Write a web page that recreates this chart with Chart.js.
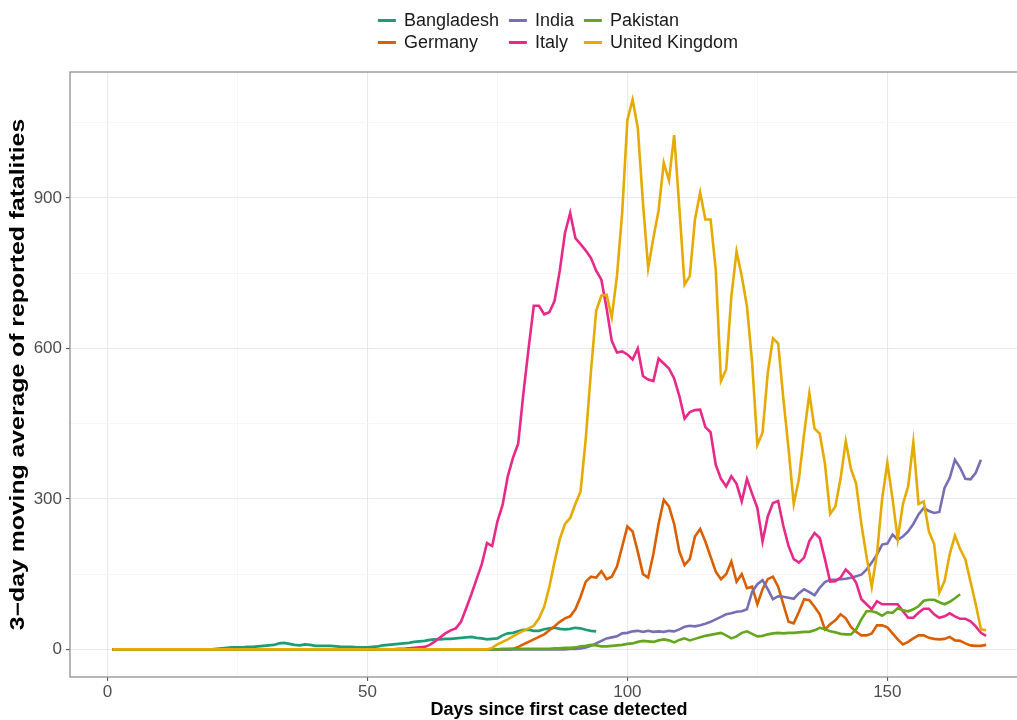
<!DOCTYPE html>
<html>
<head>
<meta charset="utf-8">
<title>3-day moving average of reported fatalities</title>
<script src="https://cdn.jsdelivr.net/npm/chart.js@4.4.1/dist/chart.umd.min.js"></script>
<style>
  html, body { margin: 0; padding: 0; background: #fff; overflow: hidden; }
  #wrap { position: relative; width: 1017px; height: 720px; overflow: hidden; }
  /* the figure is a little wider than the window, its right edge is cut off */
  #chart-box { position: absolute; left: 0; top: 0; width: 1055px; height: 720px; }
  .legend {
    position: absolute; top: 9px; left: 558px; transform: translateX(-50%);
    display: grid; grid-template-rows: auto auto; grid-auto-flow: column;
    column-gap: 10px;
    font: 18px "Liberation Sans", Arial, sans-serif; color: #1a1a1a;
  }
  .legend-item { display: flex; align-items: center; height: 22px; white-space: nowrap; }
  .legend-key { width: 18px; height: 3px; margin-right: 8px; }
</style>
</head>
<body>
<div id="wrap">
  <div id="chart-box"><canvas id="ctx-fatalities"></canvas></div>
  <div class="legend" id="legend"></div>
</div>
<script>
// axis ticks
const dayTicks = [0, 50, 100, 150];
const dayMinorTicks = [25, 75, 125, 175];
const deathTicks = [0, 300, 600, 900];
const deathMinorTicks = [150, 450, 750, 1050];

const countries = ['Bangladesh', 'Germany', 'India', 'Italy', 'Pakistan', 'United Kingdom'];
const colors = ['#1b9e77', '#d95f02', '#7570b3', '#e7298a', '#66a61e', '#e6ab02'];

// 3-day moving average of deaths, one value per day since first case (day 1 first)
const bangladesh = [
  0, 0, 0, 0, 0, 0, 0, 0, 0, 0,
  0, 0, 0, 0, 0, 0, 0, 0, 0, 0,
  1, 2, 3, 4, 4, 4, 5, 5, 6, 7,
  8, 9, 12, 13, 11, 9, 8, 10, 9, 7,
  7, 7, 7, 6, 5, 5, 5, 4, 4, 4,
  5, 6, 8, 9, 10, 11, 12, 13, 15, 16,
  17, 19, 20, 20, 21, 21, 22, 23, 24, 25,
  23, 22, 20, 21, 22, 28, 32, 33, 36, 39,
  39, 37, 37, 40, 42, 43, 41, 40, 41, 43,
  42, 39, 37, 36
];
const germany = [
  0, 0, 0, 0, 0, 0, 0, 0, 0, 0,
  0, 0, 0, 0, 0, 0, 0, 0, 0, 0,
  0, 0, 0, 0, 0, 0, 0, 0, 0, 0,
  0, 0, 0, 0, 0, 0, 0, 0, 0, 0,
  0, 0, 0, 0, 0, 0, 0, 0, 0, 0,
  0, 0, 0, 0, 0, 0, 0, 0, 0, 0,
  0, 0, 0, 0, 0, 0, 0, 0, 0, 0,
  0, 0, 0, 0, 0, 0, 0, 1, 5, 10,
  15, 20, 25, 30, 38, 46, 55, 62, 66, 80,
  105, 135, 145, 143, 156, 140, 145, 165, 205, 245,
  235, 195, 150, 143, 190, 250, 298, 285, 250, 195,
  168, 180, 225, 240, 215, 185, 155, 140, 150, 175,
  135, 150, 122, 125, 90, 120, 140, 145, 125, 90,
  55, 52, 75, 100, 98, 85, 70, 40, 50, 58,
  70, 62, 45, 35, 28, 28, 32, 48, 48, 44,
  32, 20, 10, 15, 22, 28, 28, 23, 21, 20,
  21, 25, 18, 17, 12, 8, 7, 7, 9
];
const india = [
  0, 0, 0, 0, 0, 0, 0, 0, 0, 0,
  0, 0, 0, 0, 0, 0, 0, 0, 0, 0,
  0, 0, 0, 0, 0, 0, 0, 0, 0, 0,
  0, 0, 0, 0, 0, 0, 0, 0, 0, 0,
  0, 0, 0, 0, 0, 0, 0, 0, 0, 0,
  0, 0, 0, 0, 0, 0, 0, 0, 0, 0,
  0, 0, 0, 0, 0, 0, 0, 0, 0, 0,
  0, 0, 0, 0, 0, 0, 0, 0, 0, 0,
  0, 0, 0, 0, 0, 0, 0, 0, 1, 1,
  2, 4, 7, 12, 17, 22, 24, 26, 32, 33,
  36, 37, 35, 37, 35, 36, 35, 37, 36, 40,
  45, 47, 46, 48, 51, 55, 60, 65, 70, 72,
  75, 76, 80, 115, 130, 138, 120, 100, 106, 105,
  103, 101, 112, 120, 114, 108, 123, 134, 139, 139,
  140, 141, 143, 146, 149, 159, 173, 189, 209, 211,
  229, 219, 225, 235, 250, 269, 282, 276, 272, 274,
  322, 342, 378, 362, 340, 339, 352, 378
];
const italy = [
  0, 0, 0, 0, 0, 0, 0, 0, 0, 0,
  0, 0, 0, 0, 0, 0, 0, 0, 0, 0,
  0, 0, 0, 0, 0, 0, 0, 0, 0, 0,
  0, 0, 0, 0, 0, 0, 0, 0, 0, 0,
  0, 0, 0, 0, 0, 0, 0, 0, 0, 0,
  0, 0, 0, 0, 0, 1, 1, 2, 3, 4,
  5, 9, 16, 24, 32, 38, 42, 55, 82, 110,
  140, 170, 212, 206, 255, 288, 345, 382, 410, 510,
  600, 685, 685, 668, 672, 695, 755, 830, 870, 820,
  808, 795, 780, 755, 737, 680, 615, 592, 594, 588,
  578, 600, 545, 538, 535, 580, 570, 560, 540, 505,
  460, 473, 477, 478, 443, 433, 368, 340, 325, 345,
  330, 295, 340, 310, 282, 215, 265, 292, 296, 246,
  206, 180, 173, 183, 216, 232, 222, 180, 135, 136,
  143, 159, 149, 133, 100, 90, 80, 96, 90, 90,
  90, 90, 76, 63, 63, 73, 81, 81, 70, 63,
  66, 72, 66, 61, 61, 56, 46, 33, 27
];
const pakistan = [
  0, 0, 0, 0, 0, 0, 0, 0, 0, 0,
  0, 0, 0, 0, 0, 0, 0, 0, 0, 0,
  0, 0, 0, 0, 0, 0, 0, 0, 0, 0,
  0, 0, 0, 0, 0, 0, 0, 0, 0, 0,
  0, 0, 0, 0, 0, 0, 0, 0, 0, 0,
  0, 0, 0, 0, 0, 0, 0, 0, 0, 0,
  0, 0, 0, 0, 0, 0, 0, 0, 0, 0,
  0, 0, 0, 0, 0, 1, 1, 1, 1, 1,
  1, 1, 1, 1, 1, 2, 2, 3, 3, 4,
  6, 7, 9, 8, 6, 6, 7, 8, 9, 11,
  12, 15, 17, 16, 15, 18, 20, 18, 14, 19,
  22, 18, 21, 24, 27, 29, 31, 33, 28, 22,
  26, 33, 36, 31, 26, 27, 30, 32, 33, 32,
  33, 33, 34, 35, 35, 38, 43, 40, 36, 34,
  31, 30, 30, 40, 60, 76, 76, 73, 67, 74,
  73, 82, 78, 76, 80, 86, 97, 99, 99, 94,
  90, 95, 102, 110
];
const unitedKingdom = [
  0, 0, 0, 0, 0, 0, 0, 0, 0, 0,
  0, 0, 0, 0, 0, 0, 0, 0, 0, 0,
  0, 0, 0, 0, 0, 0, 0, 0, 0, 0,
  0, 0, 0, 0, 0, 0, 0, 0, 0, 0,
  0, 0, 0, 0, 0, 0, 0, 0, 0, 0,
  0, 0, 0, 0, 0, 0, 0, 0, 0, 0,
  0, 0, 0, 0, 0, 0, 0, 0, 0, 0,
  0, 0, 0, 3, 10, 15, 20, 26, 32, 37,
  42, 47, 62, 85, 125, 175, 220, 250, 262, 290,
  315, 420, 555, 675, 705, 707, 662, 745, 870, 1055,
  1096, 1040, 890, 760, 820, 875, 970, 935, 1025, 880,
  727, 744, 857, 911, 857, 857, 757, 535, 558, 704,
  793, 744, 684, 571, 408, 432, 551, 620, 610, 500,
  400, 290, 340, 430, 510, 440, 430, 370, 270, 285,
  340, 415, 360, 330, 250, 185, 125, 190, 300, 372,
  300, 220, 290, 325, 413, 290, 295, 235, 210, 113,
  136, 190, 227, 200, 180, 135, 90, 40, 38
];

const series = [bangladesh, germany, india, italy, pakistan, unitedKingdom];
const yTitleText = '3\u2212day moving average of reported fatalities';

Chart.defaults.font.family = '"Liberation Sans", Arial, sans-serif';

const isMajor = (v, majors) => majors.includes(v);

// ggplot style panel: grey frame around the plotting area
const panelBorder = {
  id: 'panelBorder',
  afterDatasetsDraw(chart) {
    const { ctx, chartArea: a } = chart;
    ctx.save();
    ctx.strokeStyle = '#8f8f8f';
    ctx.lineWidth = 1.3;
    ctx.strokeRect(a.left, a.top, a.right - a.left, a.bottom - a.top);
    ctx.restore();
  }
};

// the y title in the original is drawn taller than wide, so stretch it along its length
const yTitle = {
  id: 'yTitle',
  afterDraw(chart) {
    const { ctx, chartArea: a } = chart;
    ctx.save();
    ctx.translate(19, (a.top + a.bottom) / 2);
    ctx.rotate(-Math.PI / 2);
    ctx.scale(1.27, 1);
    ctx.font = 'bold 19.5px "Liberation Sans", Arial, sans-serif';
    ctx.fillStyle = '#000';
    ctx.textAlign = 'center';
    ctx.textBaseline = 'middle';
    ctx.fillText(yTitleText, 0, 0);
    ctx.restore();
  }
};

const dset = series.map((values, i) => ({
  label: countries[i],
  data: values.map((v, d) => ({ x: d + 1, y: v })),
  borderColor: colors[i],
  backgroundColor: colors[i],
  borderWidth: 2.6,
  pointRadius: 0,
  tension: 0,
  fill: false,
  order: series.length - i
}));

const gridFor = (majors) => ({
  color: c => isMajor(c.tick.value, majors) ? '#e9e9e9' : '#f4f4f4',
  lineWidth: c => isMajor(c.tick.value, majors) ? 1.1 : 0.8,
  tickColor: c => isMajor(c.tick.value, majors) ? '#5a5a5a' : 'rgba(0,0,0,0)',
  tickLength: 4,
  drawTicks: true
});

const chart = new Chart(document.getElementById('ctx-fatalities'), {
  type: 'line',
  data: { datasets: dset },
  options: {
    responsive: true,
    maintainAspectRatio: false,
    animation: false,
    layout: { padding: { top: 72, right: 7, left: 0, bottom: 0 } },
    plugins: { legend: { display: false }, tooltip: { enabled: false } },
    scales: {
      x: {
        type: 'linear',
        min: -7.2,
        max: 180.9,
        afterBuildTicks: s => { s.ticks = dayTicks.concat(dayMinorTicks).sort((a, b) => a - b).map(v => ({ value: v })); },
        afterFit: s => { s.height = 43; },
        ticks: {
          autoSkip: false,
          maxRotation: 0,
          padding: 1,
          color: '#4d4d4d',
          font: { size: 17 },
          callback: v => isMajor(v, dayTicks) ? String(v) : ''
        },
        grid: gridFor(dayTicks),
        border: { display: false },
        title: {
          display: true,
          text: 'Days since first case detected',
          color: '#000',
          font: { size: 18, weight: 'bold' },
          padding: { top: 0, bottom: -1 }
        }
      },
      y: {
        type: 'linear',
        min: -55,
        max: 1151,
        afterBuildTicks: s => { s.ticks = deathTicks.concat(deathMinorTicks).sort((a, b) => a - b).map(v => ({ value: v })); },
        afterFit: s => { s.width = 70; },
        ticks: {
          autoSkip: false,
          padding: 4,
          color: '#4d4d4d',
          font: { size: 17 },
          callback: v => isMajor(v, deathTicks) ? String(v) : ''
        },
        grid: gridFor(deathTicks),
        border: { display: false },
        title: { display: false }
      }
    }
  },
  plugins: [panelBorder, yTitle]
});

// legend laid out column-wise like the original (2 rows x 3 columns)
const legend = document.getElementById('legend');
countries.forEach((name, i) => {
  const item = document.createElement('div');
  item.className = 'legend-item';
  const key = document.createElement('span');
  key.className = 'legend-key';
  key.style.background = colors[i];
  item.appendChild(key);
  item.appendChild(document.createTextNode(name));
  legend.appendChild(item);
});
</script>
</body>
</html>
